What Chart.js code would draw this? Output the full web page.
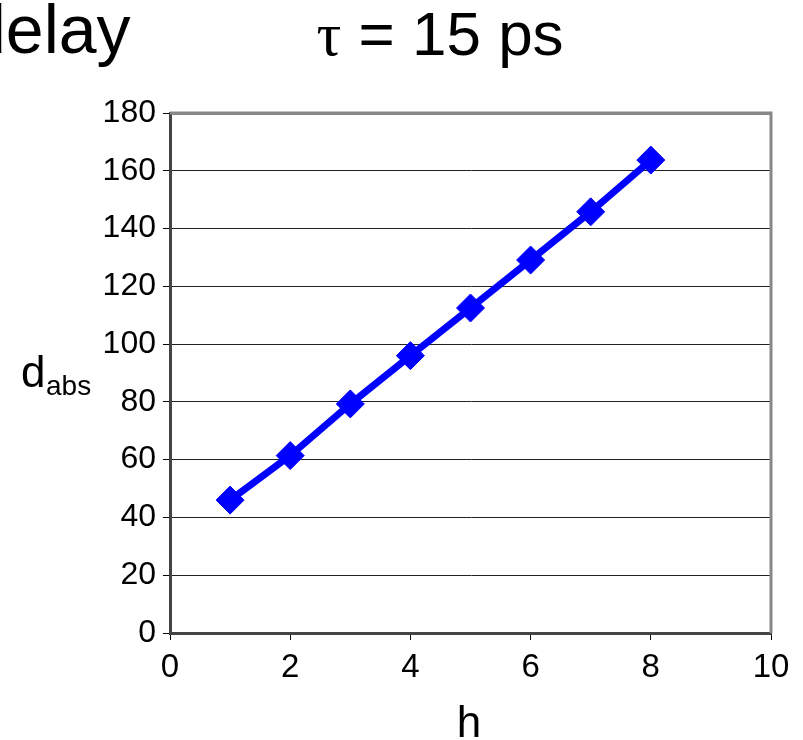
<!DOCTYPE html>
<html>
<head>
<meta charset="utf-8">
<script src="https://cdn.jsdelivr.net/npm/chart.js@4"></script>
<style>
  body { margin: 0; background: #fff; }
  #wrap { width: 803px; height: 740px; }
</style>
</head>
<body>
<div id="wrap"><canvas id="delayChart" width="803" height="740"></canvas></div>
<script>
const hops = [1, 2, 3, 4, 5, 6, 7, 8]
const delayAbs = [46, 61.4, 79.3, 96, 112.5, 129.1, 145.8, 163.7]
const yTicks = [0, 20, 40, 60, 80, 100, 120, 140, 160, 180]
const xTicks = [0, 2, 4, 6, 8, 10]

const SANS = '"Liberation Sans", Arial, sans-serif'
const SERIF = '"Liberation Serif", "Times New Roman", serif'

// frame (gray top/right) and the text around the plot
const labelsPlugin = {
    id: 'labels',
    afterDraw(chart) {
        const c = chart.ctx
        const a = chart.chartArea
        c.save()
        c.strokeStyle = '#888'
        c.lineWidth = 3
        c.beginPath()
        c.moveTo(a.left, a.top)
        c.lineTo(a.right, a.top)
        c.lineTo(a.right, a.bottom)
        c.stroke()

        c.fillStyle = '#000'
        c.textBaseline = 'alphabetic'
        c.textAlign = 'left'

        // slide heading, cut at the left edge
        c.font = '68px ' + SANS
        c.fillText('delay', -32, 53)

        // title: tau in serif, rest in sans
        c.font = '62px ' + SERIF
        const tau = 'τ'
        const wTau = c.measureText(tau).width
        c.font = '62px ' + SANS
        const rest = ' = 15 ps'
        const wRest = c.measureText(rest).width
        const x0 = 440 - (wTau + wRest) / 2
        c.font = '62px ' + SERIF
        c.fillText(tau, x0, 55)
        c.font = '62px ' + SANS
        c.fillText(rest, x0 + wTau, 55)

        // y label d_abs
        c.font = '44px ' + SANS
        c.fillText('d', 21, 387)
        c.font = '28px ' + SANS
        c.fillText('abs', 46, 395)

        // x label
        c.font = '44px ' + SANS
        c.textAlign = 'center'
        c.fillText('h', 469, 737)
        c.restore()
    }
}

const ctx = document.getElementById('delayChart').getContext('2d')

const delayChart = new Chart(ctx, {
    type: 'line',
    data: {
        datasets: [{
            data: hops.map((h, i) => ({ x: h, y: delayAbs[i] })),
            borderColor: '#0000ff',
            backgroundColor: '#0000ff',
            borderWidth: 7,
            pointStyle: 'rectRot',
            pointRadius: 14,
            pointBorderWidth: 1,
            tension: 0,
            clip: false
        }]
    },
    options: {
        responsive: false,
        animation: false,
        devicePixelRatio: 1,
        layout: {
            padding: { top: 113, right: 32, left: 0, bottom: 0 }
        },
        plugins: {
            legend: { display: false },
            tooltip: { enabled: false }
        },
        scales: {
            x: {
                type: 'linear',
                min: 0,
                max: 10,
                afterFit(scale) { scale.height = 107 },
                afterBuildTicks(scale) { scale.ticks = xTicks.map(v => ({ value: v })) },
                grid: {
                    drawOnChartArea: false,
                    tickLength: 7,
                    tickColor: '#000',
                    tickWidth: 1
                },
                border: { color: '#444', width: 3 },
                ticks: {
                    color: '#000',
                    padding: 8,
                    maxRotation: 0,
                    font: { family: SANS, size: 33 }
                }
            },
            y: {
                min: 0,
                max: 180,
                afterFit(scale) { scale.width = 170 },
                afterBuildTicks(scale) { scale.ticks = yTicks.map(v => ({ value: v })) },
                grid: {
                    color: c => c.tick && c.tick.value === 180 ? '#888' : '#222',
                    lineWidth: c => c.tick && c.tick.value === 180 ? 3 : 1,
                    tickLength: 7,
                    tickColor: '#000',
                    tickWidth: 1
                },
                border: { color: '#444', width: 3 },
                ticks: {
                    color: '#000',
                    padding: 7,
                    font: { family: SANS, size: 32 }
                }
            }
        }
    },
    plugins: [labelsPlugin]
})
</script>
</body>
</html>
